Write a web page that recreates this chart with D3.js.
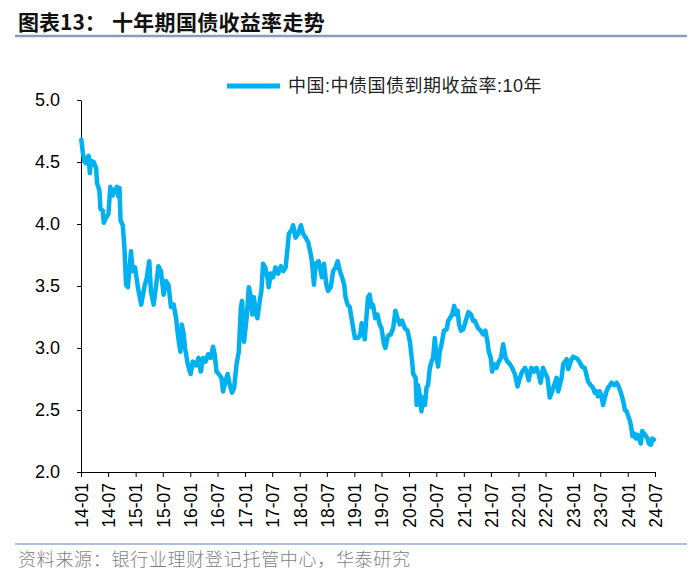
<!DOCTYPE html>
<html>
<head>
<meta charset="utf-8">
<script src="https://cdn.jsdelivr.net/npm/d3@7"></script>
<style>
  body { margin: 0; background: #fff; }
  svg { display: block; }
</style>
</head>
<body>
<svg width="700" height="576"></svg>
<script>
// 中债国债到期收益率:10年
var dates = [
  "2014-01-03","2014-01-14","2014-01-25","2014-02-05","2014-02-21","2014-03-01","2014-03-09","2014-03-27","2014-04-12","2014-04-18",
  "2014-05-04","2014-05-11","2014-05-26","2014-06-02","2014-06-17","2014-07-03","2014-07-16","2014-08-01","2014-08-12","2014-08-30",
  "2014-09-08","2014-09-15","2014-09-22","2014-10-07","2014-10-18","2014-10-29","2014-11-10","2014-12-01","2014-12-12","2014-12-28",
  "2015-01-16","2015-02-07","2015-02-28","2015-03-17","2015-04-02","2015-04-13","2015-05-01","2015-05-16","2015-06-02","2015-06-19",
  "2015-07-07","2015-07-22","2015-08-08","2015-08-25","2015-09-12","2015-09-28","2015-10-13","2015-10-27","2015-11-05","2015-11-18",
  "2015-11-27","2015-12-15",
  "2016-01-03","2016-01-18","2016-02-10","2016-02-25","2016-03-11","2016-03-26","2016-04-12","2016-04-29","2016-05-16","2016-06-01",
  "2016-06-12","2016-06-24","2016-07-09","2016-07-27","2016-08-07","2016-08-23","2016-09-06","2016-09-21","2016-10-06","2016-10-20",
  "2016-11-05","2016-11-20","2016-12-04","2016-12-12","2016-12-25",
  "2017-01-11","2017-01-26","2017-02-09","2017-02-18","2017-03-01","2017-03-11","2017-03-24","2017-04-09","2017-04-20","2017-05-01",
  "2017-05-16","2017-05-30","2017-06-08","2017-06-21","2017-07-07","2017-07-23","2017-08-10","2017-08-28","2017-09-13","2017-09-29",
  "2017-10-12","2017-10-20","2017-11-08","2017-11-18","2017-12-04","2017-12-21",
  "2018-01-09","2018-01-24","2018-02-10","2018-02-27","2018-03-15","2018-03-23","2018-04-06","2018-04-18","2018-05-07","2018-05-21",
  "2018-05-29","2018-06-12","2018-06-28","2018-07-09","2018-07-27","2018-08-12","2018-08-28","2018-09-11","2018-09-26","2018-10-11",
  "2018-10-25","2018-11-03","2018-11-17","2018-12-01","2018-12-13","2018-12-24",
  "2019-01-05","2019-01-23","2019-02-08","2019-02-19","2019-02-28","2019-03-11","2019-03-22","2019-04-02","2019-04-13","2019-04-25",
  "2019-05-05","2019-05-21","2019-06-04","2019-06-19","2019-07-01","2019-07-18","2019-07-27","2019-08-14","2019-09-01","2019-09-17",
  "2019-10-02","2019-10-16","2019-11-01","2019-11-16","2019-12-04","2019-12-22",
  "2020-01-07","2020-01-22","2020-01-29","2020-02-14","2020-02-21","2020-03-01","2020-03-13","2020-03-24","2020-04-04","2020-04-16",
  "2020-04-27","2020-05-07","2020-05-19","2020-05-30","2020-06-10","2020-06-21","2020-07-02","2020-07-13","2020-07-24","2020-08-05",
  "2020-08-22","2020-09-08","2020-09-19","2020-09-30","2020-10-15","2020-10-29","2020-11-07","2020-11-21","2020-11-30","2020-12-13",
  "2020-12-28",
  "2021-01-14","2021-02-01","2021-02-18","2021-03-04","2021-03-15","2021-03-26","2021-04-06","2021-04-24","2021-05-09","2021-05-25",
  "2021-06-08","2021-06-17","2021-06-30","2021-07-09","2021-07-22","2021-08-07","2021-08-23","2021-09-06","2021-09-21","2021-10-07",
  "2021-10-20","2021-11-05","2021-11-20","2021-12-08","2021-12-26",
  "2022-01-11","2022-01-26","2022-02-14","2022-02-25","2022-03-10","2022-03-28","2022-04-15","2022-05-01","2022-05-16","2022-05-29",
  "2022-06-14","2022-07-01","2022-07-14","2022-07-29","2022-08-14","2022-08-27","2022-09-13","2022-09-23","2022-10-04","2022-10-16",
  "2022-10-27","2022-11-08","2022-11-19","2022-11-30","2022-12-11","2022-12-22",
  "2023-01-02","2023-01-18","2023-02-01","2023-02-16","2023-03-01","2023-03-19","2023-03-30","2023-04-11","2023-04-28","2023-05-14",
  "2023-05-25","2023-06-06","2023-06-16","2023-06-28","2023-07-09","2023-07-20","2023-08-01","2023-08-12","2023-08-23","2023-09-04",
  "2023-09-15","2023-10-02","2023-10-18","2023-10-29","2023-11-10","2023-11-21","2023-12-02","2023-12-13","2023-12-24",
  "2024-01-05","2024-01-16","2024-01-23","2024-02-01","2024-02-14","2024-02-23","2024-03-07","2024-03-15","2024-03-28","2024-04-07",
  "2024-04-20","2024-05-01","2024-05-12","2024-05-21","2024-06-04","2024-06-13","2024-06-24"
];

var yields = [
  4.68,4.57,4.50,4.49,4.55,4.41,4.51,4.50,4.45,4.33,
  4.27,4.12,4.11,4.01,4.05,4.08,4.30,4.23,4.27,4.30,
  4.22,4.29,4.03,3.99,3.81,3.51,3.49,3.78,3.62,3.65,
  3.49,3.35,3.49,3.57,3.70,3.46,3.35,3.49,3.66,3.62,
  3.43,3.54,3.51,3.33,3.35,3.24,3.08,2.97,3.19,3.11,
  3.00,2.87,
  2.79,2.89,2.86,2.92,2.81,2.92,2.89,2.95,2.92,3.01,
  2.95,2.81,2.79,2.76,2.65,2.73,2.79,2.70,2.64,2.68,
  2.87,2.97,3.33,3.38,3.05,
  3.24,3.49,3.41,3.27,3.41,3.30,3.24,3.38,3.46,3.68,
  3.65,3.57,3.49,3.60,3.57,3.65,3.60,3.66,3.62,3.65,
  3.81,3.92,3.95,3.99,3.89,3.92,
  3.99,3.92,3.89,3.85,3.76,3.70,3.51,3.68,3.70,3.62,
  3.57,3.68,3.51,3.46,3.49,3.62,3.65,3.70,3.62,3.57,
  3.51,3.41,3.35,3.33,3.24,3.16,
  3.08,3.08,3.10,3.20,3.18,3.07,3.24,3.41,3.43,3.33,
  3.35,3.24,3.27,3.19,3.16,3.03,3.00,3.10,3.11,3.16,
  3.30,3.24,3.19,3.22,3.16,3.14,
  3.05,2.89,2.79,2.76,2.54,2.70,2.62,2.49,2.60,2.54,
  2.68,2.70,2.84,2.89,2.92,3.08,2.94,2.85,2.97,3.03,
  3.14,3.15,3.22,3.24,3.27,3.34,3.27,3.30,3.19,3.14,
  3.15,
  3.22,3.29,3.27,3.22,3.22,3.19,3.16,3.14,3.11,3.14,
  3.05,2.97,2.92,2.81,2.87,2.84,2.89,2.92,3.03,2.92,
  2.89,2.87,2.84,2.79,2.69,
  2.76,2.81,2.84,2.81,2.74,2.84,2.81,2.84,2.79,2.72,
  2.84,2.79,2.76,2.60,2.65,2.70,2.76,2.65,2.70,2.76,
  2.87,2.89,2.91,2.83,2.87,2.91,
  2.93,2.92,2.91,2.88,2.85,2.84,2.79,2.73,2.70,2.68,
  2.64,2.65,2.61,2.65,2.62,2.54,2.60,2.65,2.68,2.70,
  2.72,2.70,2.72,2.70,2.66,2.62,2.57,2.50,2.49,
  2.45,2.41,2.37,2.29,2.31,2.27,2.30,2.27,2.23,2.33,
  2.31,2.29,2.27,2.23,2.22,2.27,2.26
];

var xTicks = ["2014-01-01","2014-07-01","2015-01-01","2015-07-01","2016-01-01","2016-07-01",
              "2017-01-01","2017-07-01","2018-01-01","2018-07-01","2019-01-01","2019-07-01",
              "2020-01-01","2020-07-01","2021-01-01","2021-07-01","2022-01-01","2022-07-01",
              "2023-01-01","2023-07-01","2024-01-01","2024-07-01"];
var yTicks = [2.0, 2.5, 3.0, 3.5, 4.0, 4.5, 5.0];

var titleLabel = "图表13：";
var titleText = "十年期国债收益率走势";
var seriesName = "中国:中债国债到期收益率:10年";
var sourceText = "资料来源：银行业理财登记托管中心，华泰研究";

var svg = d3.select("svg"),
    margin = {top: 100, right: 45, bottom: 104, left: 81},
    width = +svg.attr("width") - margin.left - margin.right,
    height = +svg.attr("height") - margin.top - margin.bottom,
    g = svg.append("g").attr("transform", "translate(" + margin.left + "," + margin.top + ")");

var parseTime = d3.timeParse("%Y-%m-%d");
var lineColor = "#00b0f0";

var data = dates.map(function(d, i) {
  return {date: parseTime(d), value: yields[i]};
});

var x = d3.scaleTime()
    .domain([parseTime(xTicks[0]), parseTime(xTicks[xTicks.length - 1])])
    .range([0, width]);

var y = d3.scaleLinear()
    .domain([yTicks[0], yTicks[yTicks.length - 1]])
    .range([height, 0]);

var line = d3.line()
    .x(function(d) { return x(d.date); })
    .y(function(d) { return y(d.value); });

// title + rules
svg.append("text")
    .attr("x", 18).attr("y", 30)
    .attr("fill", "#111")
    .style("font", "bold 21px 'Noto Sans CJK SC'")
    .text(titleLabel);

svg.append("text")
    .attr("x", 112).attr("y", 30)
    .attr("fill", "#111")
    .style("font", "bold 21px 'Noto Sans CJK SC'")
    .style("letter-spacing", "0.3px")
    .text(titleText);

svg.append("line")
    .attr("x1", 15).attr("x2", 687)
    .attr("y1", 36).attr("y2", 36)
    .attr("stroke", "#8a9dbb")
    .attr("stroke-width", 2.5);

svg.append("line")
    .attr("x1", 15).attr("x2", 687)
    .attr("y1", 544).attr("y2", 544)
    .attr("stroke", "#93abd2")
    .attr("stroke-width", 1.5);

svg.append("text")
    .attr("x", 18).attr("y", 566)
    .attr("fill", "#7f7f7f")
    .style("font", "300 18px 'Noto Sans CJK SC'")
    .style("letter-spacing", "0.7px")
    .text(sourceText);

// legend
svg.append("line")
    .attr("x1", 227).attr("x2", 280)
    .attr("y1", 86).attr("y2", 86)
    .attr("stroke", lineColor)
    .attr("stroke-width", 5);

svg.append("text")
    .attr("x", 288).attr("y", 92)
    .attr("fill", "#222")
    .style("font", "18px 'Liberation Sans', 'Noto Sans CJK SC'")
    .style("letter-spacing", "0.5px")
    .text(seriesName);

// axes
var xAxis = g.append("g")
    .attr("transform", "translate(0," + height + ")")
    .call(d3.axisBottom(x)
      .tickValues(xTicks.map(parseTime))
      .tickFormat(d3.timeFormat("%y-%m"))
      .tickSize(5)
      .tickSizeOuter(0));

xAxis.selectAll("text")
    .attr("transform", "rotate(-90)")
    .attr("x", -11)
    .attr("y", 0)
    .attr("dy", "0.36em")
    .attr("fill", "#000")
    .style("text-anchor", "end")
    .style("font", "17.5px 'Liberation Sans'");

var yAxis = g.append("g")
    .call(d3.axisLeft(y)
      .tickValues(yTicks)
      .tickFormat(d3.format(".1f"))
      .tickSize(4)
      .tickPadding(17)
      .tickSizeOuter(0));

yAxis.selectAll("text")
    .attr("fill", "#000")
    .style("font", "18px 'Liberation Sans'");

g.selectAll(".domain, .tick line").attr("stroke", "#000");

// series
g.append("path")
    .datum(data)
    .attr("fill", "none")
    .attr("stroke", lineColor)
    .attr("stroke-width", 4.5)
    .attr("stroke-linejoin", "round")
    .attr("stroke-linecap", "round")
    .attr("d", line);
</script>
</body>
</html>
